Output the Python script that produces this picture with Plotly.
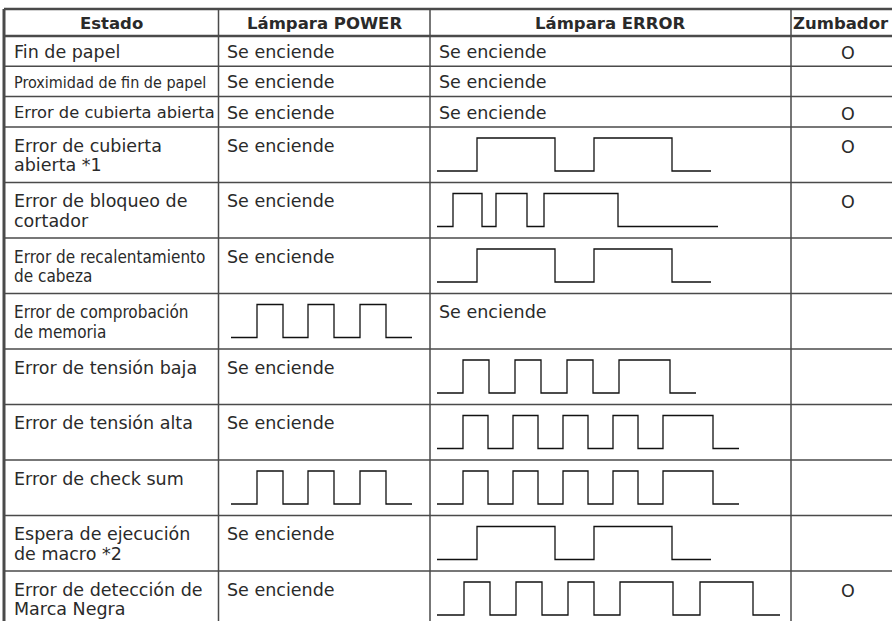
import plotly.graph_objects as go

# ---------------- data ----------------
headers = ["Estado", "Lámpara POWER", "Lámpara ERROR", "Zumbador"]

estado = [
    ["Fin de papel"],
    ["Proximidad de fin de papel"],
    ["Error de cubierta abierta"],
    ["Error de cubierta", "abierta *1"],
    ["Error de bloqueo de", "cortador"],
    ["Error de recalentamiento", "de cabeza"],
    ["Error de comprobación", "de memoria"],
    ["Error de tensión baja"],
    ["Error de tensión alta"],
    ["Error de check sum"],
    ["Espera de ejecución", "de macro *2"],
    ["Error de detección de", "Marca Negra"],
]
condensed_rows = [1, 5, 6]

# waveform timings (low/high alternating durations, starting low)
wave_cubierta = [40, 78, 39, 78, 39]
wave_cortador = [16, 29, 14, 31, 17, 74, 100]
wave_cabeza = [40, 78, 39, 78, 39]
wave_baja = [26, 26, 26, 26, 26, 26, 26, 51, 26]
wave_alta = [26, 25, 25, 25, 25, 25, 25, 25, 25, 50, 26]
wave_checksum = [26, 25, 25, 25, 25, 25, 25, 25, 25, 50, 26]
wave_macro = [40, 78, 39, 78, 39]
wave_marca = [27, 26, 26, 26, 26, 26, 26, 53, 27, 53, 27]
wave_power = [26, 26, 25, 26, 26, 26, 26]

ON = "Se enciende"
power = [ON, ON, ON, ON, ON, ON, wave_power, ON, ON, wave_power, ON, ON]
error = [ON, ON, ON, wave_cubierta, wave_cortador, wave_cabeza, ON,
         wave_baja, wave_alta, wave_checksum, wave_macro, wave_marca]
zumbador = ["O", "", "O", "O", "O", "", "", "", "", "", "", "O"]

# ---------------- layout geometry ----------------
W, H = 892, 621
col_x = [4, 218.5, 430, 791, 892]
row_y = [9, 36, 66.3, 96.6, 127, 182.5, 238, 293.5, 349, 404.5, 460, 515.5, 571, 626.5]

TXT = "#2a2a2a"
LINE = "#4a4a4a"
FONT = "DejaVu Sans, Verdana, sans-serif"
FONT_C = "DejaVu Sans Condensed, Liberation Sans Narrow, DejaVu Sans, sans-serif"
FS = 17.5
label_size = {1: 16, 2: 16.3, 5: 17, 6: 17}

fig = go.Figure()
shapes = []
ann = []

# grid lines
for i, y in enumerate(row_y):
    w = 2.6 if i in (0, 1) else 1.5
    shapes.append(dict(type="line", x0=col_x[0], x1=W, y0=y, y1=y,
                       line=dict(color=LINE, width=w), layer="below"))
for j, x in enumerate(col_x[:-1]):
    w = 3 if j == 0 else 1.5
    shapes.append(dict(type="line", x0=x, x1=x, y0=row_y[0], y1=row_y[-1],
                       line=dict(color=LINE, width=w), layer="below"))

# headers
for j, h in enumerate(headers):
    ann.append(dict(x=(col_x[j] + col_x[j + 1]) / 2 if j < 3 else 841,
                    y=(row_y[0] + row_y[1]) / 2 + 1,
                    text="<b>" + h + "</b>", showarrow=False, xanchor="center", yanchor="middle",
                    font=dict(family=FONT, size=16.5, color=TXT)))


def add_wave(durs, x0, top, name):
    lo, hi = top + 44, top + 11
    xs, ys = [x0], [lo]
    x = x0
    level = lo
    for k, d in enumerate(durs):
        x += d
        xs.append(x)
        ys.append(level)
        if k < len(durs) - 1:
            level = hi if level == lo else lo
            xs.append(x)
            ys.append(level)
    fig.add_trace(go.Scatter(x=xs, y=ys, mode="lines", name=name,
                             line=dict(color="#111111", width=1.3),
                             hoverinfo="skip", showlegend=False))


for i in range(len(estado)):
    top = row_y[i + 1]
    tall = (row_y[i + 2] - top) > 40
    first = top + (18.5 if tall else 16)
    lines = estado[i]
    fam = FONT_C if i in condensed_rows else FONT
    for k, t in enumerate(lines):
        ann.append(dict(x=12, y=first + 19.5 * k, text=t, showarrow=False,
                        xanchor="left", yanchor="middle",
                        font=dict(family=fam, size=label_size.get(i, FS), color=TXT)))
    if isinstance(power[i], str):
        ann.append(dict(x=225, y=first, text=power[i], showarrow=False,
                        xanchor="left", yanchor="middle",
                        font=dict(family=FONT, size=FS, color=TXT)))
    else:
        add_wave(power[i], 231, top, "power_%d" % i)
    if isinstance(error[i], str):
        ann.append(dict(x=437, y=first, text=error[i], showarrow=False,
                        xanchor="left", yanchor="middle",
                        font=dict(family=FONT, size=FS, color=TXT)))
    else:
        add_wave(error[i], 437, top, "error_%d" % i)
    if zumbador[i]:
        ann.append(dict(x=848, y=first + 1, text=zumbador[i], showarrow=False,
                        xanchor="center", yanchor="middle",
                        font=dict(family=FONT, size=FS, color=TXT)))

fig.update_layout(
    width=W, height=H, margin=dict(l=0, r=0, t=0, b=0),
    paper_bgcolor="white", plot_bgcolor="white",
    xaxis=dict(range=[0, W], visible=False, fixedrange=True),
    yaxis=dict(range=[H, 0], visible=False, fixedrange=True),
    shapes=shapes, annotations=ann, showlegend=False,
)

fig.write_html("out.html", config={"displayModeBar": False},
               post_script="document.body.style.margin='0';")
